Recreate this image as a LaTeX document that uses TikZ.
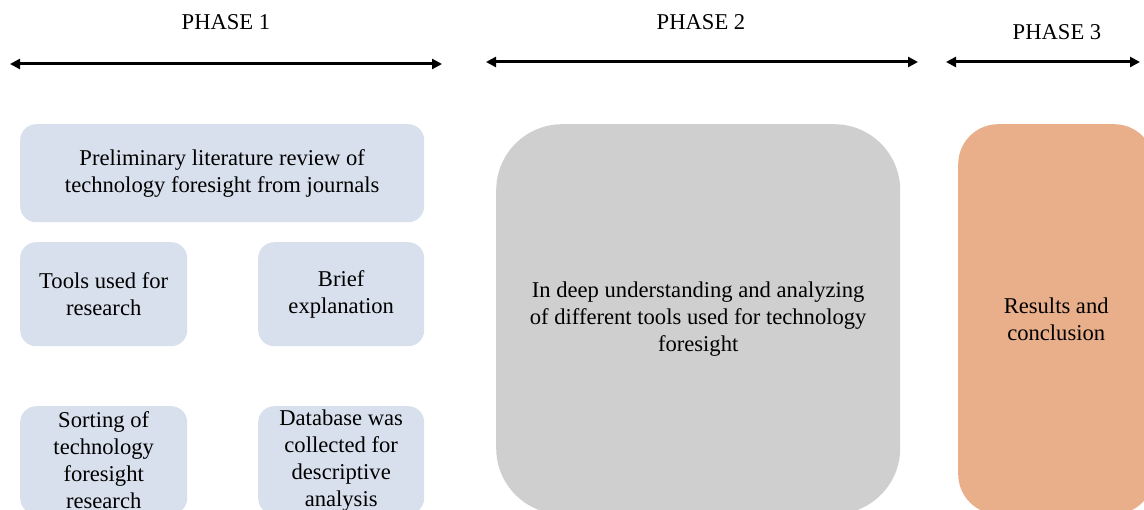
\documentclass[tikz,border=0pt]{standalone}
\usepackage{fontspec}
\setmainfont{Liberation Serif}
\usetikzlibrary{arrows.meta}
\definecolor{paleblue}{HTML}{D7E0EC}
\definecolor{midgray}{HTML}{CFCFCF}
\definecolor{apricot}{HTML}{E8AF8A}
\tikzset{
  txt/.style={font=\fontsize{22.6}{27}\selectfont, align=center, inner sep=0pt},
  stepbox/.style={txt, rounded corners=16pt, fill=paleblue, anchor=north west},
  bigbox/.style={txt, anchor=north west},
  span/.style={line width=3pt, {Triangle[length=10pt,width=10pt]}-{Triangle[length=10pt,width=10pt]}},
  phase/.style={font=\fontsize{22.6}{27}\selectfont, inner sep=0pt}
}
\begin{document}
\begin{tikzpicture}[x=1pt,y=-1pt]
\useasboundingbox (0,0) rectangle (1144,510);
\clip (0,0) rectangle (1144,510);

% phase headings
\node[phase] (p1) at (226,22) {PHASE 1};
\node[phase] (p2) at (701,22) {PHASE 2};
\node[phase] (p3) at (1057,32) {PHASE 3};

% phase spans
\coordinate (a1) at (10,64);  \coordinate (b1) at (442,64);
\coordinate (a2) at (486,62); \coordinate (b2) at (918,62);
\coordinate (a3) at (946,62); \coordinate (b3) at (1140,62);
\draw[span] (a1) -- (b1);
\draw[span] (a2) -- (b2);
\draw[span] (a3) -- (b3);

% phase 1 boxes
\node[stepbox, minimum width=404pt, minimum height=98pt] (review) at (20,124)
  {Preliminary literature review of\\technology foresight from journals};
\node[stepbox, minimum width=167pt, minimum height=104pt] (tools) at (20,242)
  {Tools used for\\research};
\node[stepbox, minimum width=166pt, minimum height=104pt] (brief) at (258,242)
  {Brief\\explanation};
\node[stepbox, minimum width=167pt, minimum height=108pt] (sorting) at (20,406)
  {Sorting of\\technology\\foresight\\research};
\node[stepbox, minimum width=166pt, minimum height=108pt] (database) at (258,406)
  {Database was\\collected for\\descriptive\\analysis};

% phase 2 box
\node[bigbox, fill=midgray, rounded corners=66pt, minimum width=404pt, minimum height=390pt] (analysis) at (496,124)
  {In deep understanding and analyzing\\of different tools used for technology\\foresight};

% phase 3 box
\node[bigbox, fill=apricot, rounded corners=40pt, minimum width=196pt, minimum height=390pt] (results) at (958,124)
  {Results and\\conclusion};
\end{tikzpicture}
\end{document}
